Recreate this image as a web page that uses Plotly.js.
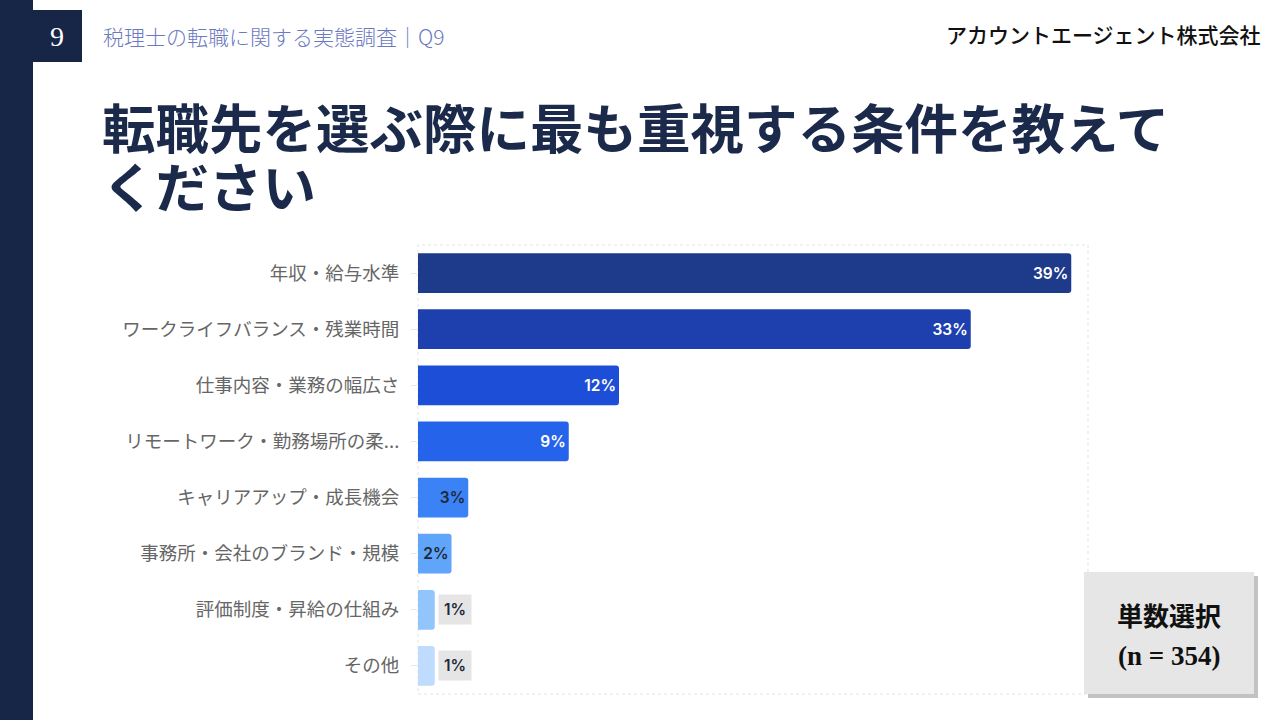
<!DOCTYPE html>
<html>
<head>
<meta charset="utf-8">
<script src="https://cdn.plot.ly/plotly-3.0.1.min.js"></script>
<style>
  html, body { margin: 0; padding: 0; background: #fff; }
  #chart { width: 1280px; height: 720px; }
</style>
</head>
<body>
<div id="chart"></div>
<script>
// data
const categories = [
  '年収・給与水準',
  'ワークライフバランス・残業時間',
  '仕事内容・業務の幅広さ',
  'リモートワーク・勤務場所の柔...',
  'キャリアアップ・成長機会',
  '事務所・会社のブランド・規模',
  '評価制度・昇給の仕組み',
  'その他'
];
const shares = [39, 33, 12, 9, 3, 2, 1, 1];
const barColors = ['#1e3a8a', '#1e40af', '#1d4ed8', '#2563eb', '#3b82f6', '#60a5fa', '#93c5fd', '#bfdbfe'];
const labelColors = ['#ffffff', '#ffffff', '#ffffff', '#ffffff', '#1f2937', '#1f2937', '#1f2937', '#1f2937'];

const navy = '#172546';
const jp = '"Noto Sans CJK JP", "Noto Sans", sans-serif';

// small bars get their label outside, on a grey chip
let insideText = [];
let outsideNotes = [];
for (let i = 0; i < shares.length; i++) {
  if (shares[i] >= 2) {
    insideText.push(shares[i] + '%');
  } else {
    insideText.push('');
    outsideNotes.push({
      x: shares[i], y: categories[i], xref: 'x', yref: 'y',
      text: shares[i] + '%', showarrow: false,
      xanchor: 'left', yanchor: 'middle', xshift: 3,
      font: { family: 'Inter, sans-serif', size: 15.5, color: '#1f2937', weight: 600 },
      bgcolor: '#e5e5e5', borderpad: 5
    });
  }
}

const trace = {
  type: 'bar',
  orientation: 'h',
  x: shares,
  y: categories,
  text: insideText,
  textposition: 'inside',
  insidetextanchor: 'end',
  textangle: 0,
  insidetextfont: { family: 'Inter, sans-serif', size: 15.5, color: labelColors, weight: 600 },
  marker: { color: barColors, line: { width: 0 } },
  hoverinfo: 'skip',
  cliponaxis: false
};

// paper-pixel helpers
const px = v => v / 1280;
const py = v => 1 - v / 720;

function note(x, y, text, font, xanchor) {
  return { x: px(x), y: py(y), xref: 'paper', yref: 'paper', text: text, showarrow: false,
    xanchor: xanchor || 'center', yanchor: 'middle', font: font };
}

const layout = {
  width: 1280,
  height: 720,
  margin: { l: 0, r: 0, t: 0, b: 0 },
  paper_bgcolor: '#ffffff',
  plot_bgcolor: '#ffffff',
  showlegend: false,
  bargap: 0.29,
  barcornerradius: 3,
  xaxis: {
    domain: [px(418), px(1088)],
    range: [0, 40],
    showgrid: false, zeroline: false, showticklabels: false, ticks: '', showline: false,
    fixedrange: true
  },
  yaxis: {
    domain: [py(694), py(245)],
    autorange: 'reversed',
    showgrid: false, zeroline: false, showline: false,
    ticks: 'outside', ticklen: 6, tickcolor: '#e6e6e6',
    ticklabelstandoff: 8,
    tickfont: { family: jp, size: 18.5, color: '#666666' },
    fixedrange: true
  },
  shapes: [
    // navy side stripe and page number block
    { type: 'rect', xref: 'paper', yref: 'paper', x0: 0, x1: px(33), y0: 0, y1: 1,
      fillcolor: navy, line: { width: 0 }, layer: 'below' },
    { type: 'rect', xref: 'paper', yref: 'paper', x0: px(33), x1: px(82), y0: py(62), y1: py(10),
      fillcolor: navy, line: { width: 0 }, layer: 'below' },
    // dotted frame round the plot
    { type: 'rect', xref: 'x domain', yref: 'y domain', x0: 0, x1: 1, y0: 0, y1: 1,
      line: { color: '#e3e3e3', width: 1, dash: 'dot' }, layer: 'below' },
    // n box with shadow
    { type: 'rect', xref: 'paper', yref: 'paper', x0: px(1088), x1: px(1258), y0: py(698), y1: py(576),
      fillcolor: '#9a9a9a', line: { width: 0 }, opacity: 0.6 },
    { type: 'rect', xref: 'paper', yref: 'paper', x0: px(1084), x1: px(1254), y0: py(694), y1: py(572),
      fillcolor: '#e6e6e6', line: { width: 0 } }
  ],
  annotations: [
    note(57, 36, '9', { family: '"Liberation Serif", serif', size: 28, color: '#ffffff' }),
    note(101, 36, '税理士の転職に関する実態調査｜Q9',
      { family: jp, size: 21, color: '#6b79c0', weight: 300 }, 'left'),
    note(1263, 34, 'アカウントエージェント株式会社',
      { family: jp, size: 21, color: '#111111', weight: 500 }, 'right'),
    note(100, 125, '転職先を選ぶ際に最も重視する条件を教えて',
      { family: jp, size: 53.5, color: '#1b2a4a', weight: 700 }, 'left'),
    note(100, 185, 'ください',
      { family: jp, size: 53.5, color: '#1b2a4a', weight: 700 }, 'left'),
    note(1169, 614, '単数選択', { family: jp, size: 26, color: '#111111', weight: 700 }),
    note(1169, 656, '(n = 354)', { family: '"Liberation Serif", serif', size: 27, color: '#111111', weight: 700 })
  ].concat(outsideNotes)
};

Plotly.newPlot('chart', [trace], layout, { displayModeBar: false, staticPlot: true });
</script>
</body>
</html>
